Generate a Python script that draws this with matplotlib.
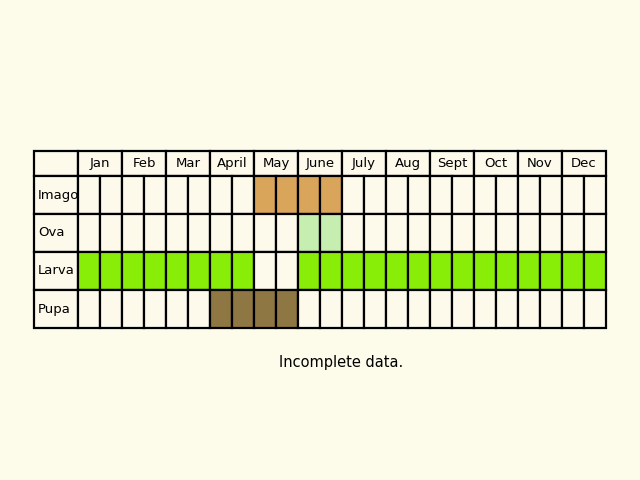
import matplotlib.pyplot as plt
from matplotlib.patches import Rectangle

months = ["Jan", "Feb", "Mar", "April", "May", "June", "July", "Aug", "Sept", "Oct", "Nov", "Dec"]
stages = ["Imago", "Ova", "Larva", "Pupa"]
# half-month periods (0..23) when each stage is present
presence = {
    "Imago": [8, 9, 10, 11],
    "Ova": [10, 11],
    "Larva": [0, 1, 2, 3, 4, 5, 6, 7, 10, 11, 12, 13, 14, 15, 16, 17, 18, 19, 20, 21, 22, 23],
    "Pupa": [6, 7, 8, 9],
}
stage_colors = {"Imago": "#d9a55a", "Ova": "#c5eeb0", "Larva": "#88ee08", "Pupa": "#8f7744"}
note = "Incomplete data."

bg = "#fdfbe9"
cell_bg = "#fdfaec"

fig = plt.figure(figsize=(6.4, 4.8), dpi=100, facecolor=bg)
ax = fig.add_axes([0, 0, 1, 1])
ax.set_xlim(0, 640)
ax.set_ylim(480, 0)
ax.axis("off")

left, label_w, col_w = 34, 44, 22
top, head_h, row_h = 151, 25, 38
x0 = left + label_w
lw = 1.6

# header
ax.add_patch(Rectangle((left, top), label_w, head_h, fc=cell_bg, ec="black", lw=lw))
for i, m in enumerate(months):
    x = x0 + i * 2 * col_w
    ax.add_patch(Rectangle((x, top), 2 * col_w, head_h, fc=cell_bg, ec="black", lw=lw))
    ax.text(x + col_w, top + head_h / 2, m, ha="center", va="center", fontsize=9.5)

# stage rows
for r, s in enumerate(stages):
    y = top + head_h + r * row_h
    ax.add_patch(Rectangle((left, y), label_w, row_h, fc=cell_bg, ec="black", lw=lw))
    ax.text(left + 4, y + row_h / 2, s, ha="left", va="center", fontsize=9.5)
    for c in range(24):
        fc = stage_colors[s] if c in presence[s] else cell_bg
        ax.add_patch(Rectangle((x0 + c * col_w, y), col_w, row_h, fc=fc, ec="black", lw=lw))

ax.text(341, 362, note, ha="center", va="center", fontsize=10.5)

fig.savefig("out.png", dpi=100, facecolor=bg)
